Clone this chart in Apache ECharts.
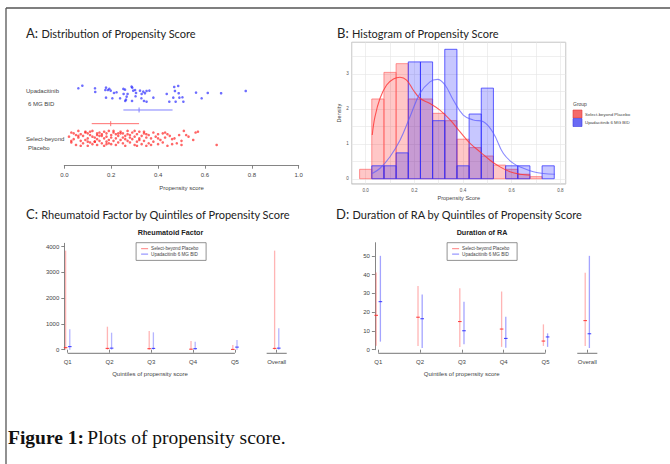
<!DOCTYPE html>
<html><head><meta charset="utf-8">
<script src="https://cdn.jsdelivr.net/npm/echarts@6/dist/echarts.min.js"></script>
<style>html,body{margin:0;padding:0;background:#fff}#c{width:670px;height:464px}</style>
</head><body><div id="c"></div>
<script>
// ---------------- Panel A: strip chart ----------------
const groupLabels = ['Upadacitinib\n6 MG BID', 'Select-beyond\nPlacebo'];
const legendLabels = ['Select-beyond Placebo', 'Upadacitinib 6 MG BID'];
const ticksA = [0, 0.2, 0.4, 0.6, 0.8, 1.0];
const upaScores = [0.06,0.077,0.131,0.132,0.178,0.186,0.192,0.198,0.212,0.178,0.205,0.223,0.252,0.259,0.253,0.266,0.263,0.26,0.287,0.29,0.302,0.306,0.304,0.294,0.323,0.33,0.337,0.344,0.351,0.363,0.329,0.34,0.351,0.38,0.437,0.448,0.465,0.469,0.472,0.486,0.488,0.491,0.504,0.508,0.475,0.562,0.586,0.612,0.669,0.774,0.175,0.238,0.27,0.289];
const upaJitter = [0.63,0.92,0.63,0.22,0.7,0.44,0.56,0.37,0.11,-0.41,-0.48,0.19,0.56,0.48,0.0,-0.3,-0.63,-0.78,0.81,0.7,0.44,0.11,-0.26,0.37,0.37,0.0,0.26,0.08,0.33,0.37,-0.48,-0.78,-0.86,-0.41,0.0,-0.86,-0.41,0.78,0.33,0.89,0.08,-0.41,-0.37,-0.86,-0.86,0.15,-0.48,0.11,0.08,0.33,0.44,-0.48,0.0,-0.78];
const pboScores = [
 0.02,0.03,0.03,0.04,0.05,0.05,0.06,0.06,0.07,0.07,
 0.08,0.08,0.09,0.09,0.10,0.10,0.10,0.11,0.11,0.12,
 0.12,0.12,0.13,0.13,0.14,0.14,0.14,0.15,0.15,0.15,
 0.16,0.16,0.17,0.17,0.17,0.18,0.18,0.18,0.19,0.19,
 0.20,0.20,0.20,0.21,0.21,0.22,0.22,0.22,0.23,0.23,
 0.24,0.24,0.25,0.25,0.25,0.26,0.26,0.27,0.27,0.28,
 0.28,0.29,0.29,0.30,0.30,0.31,0.31,0.32,0.32,0.33,
 0.33,0.34,0.34,0.35,0.35,0.36,0.36,0.37,0.38,0.38,
 0.39,0.40,0.40,0.41,0.42,0.42,0.43,0.44,0.45,0.46,
 0.47,0.48,0.49,0.50,0.50,0.51,0.53,0.55,0.56,0.57,
 0.65,0.04,0.07,0.09,0.11,0.13,0.16,0.19,0.21,0.24,
 0.26,0.28,0.30,0.32,0.35,0.37,0.40,0.43,0.46,0.52,
 0.03,0.06,0.10,0.14,0.18,0.23,0.27,0.31,0.34,0.44];
const pboJitter = [
 0.2,-0.5,0.7,-0.1,0.4,-0.8,0.1,0.9,-0.3,0.5,
 -0.6,0.3,0.8,-0.2,0.0,0.6,-0.9,0.4,-0.5,0.2,
 -0.7,0.9,0.1,-0.4,0.6,-0.1,-0.8,0.3,0.7,-0.3,
 0.5,-0.6,0.0,0.8,-0.9,0.2,-0.4,0.6,-0.2,0.9,
 -0.7,0.4,0.1,-0.3,0.7,0.5,-0.8,0.0,0.3,-0.5,
 0.8,-0.2,0.1,-0.6,0.6,0.3,-0.9,0.9,-0.3,0.4,
 -0.5,0.7,-0.1,0.2,-0.8,0.5,-0.4,0.8,0.0,-0.7,
 0.3,0.6,-0.3,-0.9,0.1,0.4,-0.6,0.0,0.7,-0.4,
 0.2,-0.7,0.5,-0.2,0.6,-0.5,0.1,-0.9,0.3,-0.1,
 0.0,-0.6,0.4,-0.8,-0.3,0.9,0.2,-0.2,0.7,0.8,
 -0.8,0.6,-0.9,0.7,0.8,-0.4,0.3,-0.6,0.9,0.6,
 -0.1,0.1,0.9,-0.2,0.5,-0.8,0.0,0.7,-0.7,0.4,
 -0.3,0.3,-0.4,0.4,-0.7,0.6,0.5,-0.9,0.8,0.5];
const upaSummary = [0.252, 0.319, 0.462]; // low, centre, high
const pboSummary = [0.117, 0.198, 0.319];

// ---------------- Panel B: histogram ----------------
const binCenters = [0,0.05,0.10,0.15,0.20,0.25,0.30,0.35,0.40,0.45,0.50,0.55,0.60,0.65,0.70,0.75];
const binWidth = 0.05;
const pboDensity = [0.27,2.28,3.04,3.29,2.28,2.28,1.87,1.66,1.13,0.89,0.65,0.39,0.27,0.13,0.06,0];
const upaDensity = [0,0.37,0.37,0.74,3.34,3.34,1.66,3.70,0.37,1.85,2.59,0,0.37,0.37,0,0.37];
const pboCurveX = [0.027,0.038,0.059,0.086,0.114,0.141,0.168,0.196,0.223,0.264,0.305,0.347,0.388,0.429,0.470,0.511,0.552,0.593,0.634,0.675];
const pboCurveY = [1.25,1.77,2.30,2.68,2.85,2.90,2.82,2.53,2.30,2.15,1.96,1.68,1.34,1.01,0.77,0.53,0.34,0.20,0.13,0.10];
const upaCurveX = [0.027,0.059,0.100,0.141,0.182,0.223,0.264,0.295,0.326,0.360,0.401,0.442,0.484,0.525,0.566,0.607,0.648,0.689,0.730,0.778];
const upaCurveY = [0.15,0.30,0.63,1.10,1.77,2.44,2.77,2.84,2.68,2.25,1.82,1.68,1.63,1.30,0.72,0.44,0.30,0.20,0.15,0.13];
const ticksBx = [0, 0.2, 0.4, 0.6, 0.8];
const ticksBy = [0, 1, 2, 3];

// ---------------- Panels C & D: ranges by quintile ----------------
const quintiles = ['Q1','Q2','Q3','Q4','Q5','Overall'];
const ticksC = [0,1000,2000,3000,4000];
const rfPboLow  = [0,0,0,0,0,0];
const rfPboHigh = [3845,893,726,338,183,3845];
const rfPboMed  = [80,50,40,20,10,50];
const rfUpaLow  = [0,0,0,0,0,0];
const rfUpaHigh = [790,660,675,311,377,830];
const rfUpaMed  = [120,60,50,40,100,60];
const ticksD = [0,10,20,30,40,50];
const durPboLow  = [2.1,2.0,1.5,1.5,2.0,2.0];
const durPboHigh = [41.1,34.0,32.8,31.0,13.5,41.0];
const durPboMed  = [18.3,17.3,15.0,11.0,4.6,15.5];
const durUpaLow  = [4.3,0.9,2.9,1.0,1.5,0.9];
const durUpaHigh = [50.0,29.4,25.6,17.6,8.7,50.0];
const durUpaMed  = [25.6,16.5,10.1,6.0,6.8,8.5];

// ---------------- build ----------------
const chart = echarts.init(document.getElementById('c'), null, {renderer:'svg'});
const SANS = 'Liberation Sans';
const TF = 'Lato';
const AX = '#444';

const blueCentre = 7.97, redCentre = 3.04;
const upaPts = upaScores.map((s,i)=>[s, blueCentre + upaJitter[i]]);
const pboPts = pboScores.map((s,i)=>[s, redCentre + pboJitter[i]*0.92]);

function summarySeries(sum, level, color){
  return {type:'custom', xAxisIndex:0, yAxisIndex:0, silent:true, z:3,
    data:[[sum[0], sum[1], sum[2]]],
    renderItem(p, api){
      const a = api.coord([api.value(0), level]);
      const m = api.coord([api.value(1), level]);
      const b = api.coord([api.value(2), level]);
      return {type:'group', children:[
        {type:'line', shape:{x1:a[0],y1:a[1],x2:b[0],y2:b[1]}, style:{stroke:color, lineWidth:1}},
        {type:'line', shape:{x1:m[0],y1:m[1]-2.5,x2:m[0],y2:m[1]+2.5}, style:{stroke:color, lineWidth:1}}
      ]};
    }};
}
function histSeries(dens, fill, stroke, z){
  return {type:'custom', xAxisIndex:1, yAxisIndex:1, silent:true, z,
    data: binCenters.map((c,i)=>[c, dens[i]]),
    renderItem(p, api){
      const c = api.value(0), d = api.value(1);
      if (!d) return;
      const p0 = api.coord([c - binWidth/2, d]);
      const p1 = api.coord([c + binWidth/2, 0]);
      return {type:'rect', shape:{x:p0[0], y:p0[1], width:p1[0]-p0[0], height:p1[1]-p0[1]},
        style:{fill, stroke, lineWidth:0.9}};
    }};
}
function rangeSeries(gi, low, high, med, off, color, markColor){
  return {type:'custom', xAxisIndex:gi, yAxisIndex:gi, silent:true, clip:false, z:3,
    data: quintiles.map((q,i)=>[i+1, low[i], high[i], med[i]]),
    renderItem(p, api){
      const x = api.value(0) + off;
      const a = api.coord([x, api.value(1)]);
      const b = api.coord([x, api.value(2)]);
      const m = api.coord([x, api.value(3)]);
      return {type:'group', children:[
        {type:'line', shape:{x1:a[0],y1:a[1],x2:b[0],y2:b[1]}, style:{stroke:color, lineWidth:1.3}},
        {type:'line', shape:{x1:m[0]-1.8,y1:m[1],x2:m[0]+1.8,y2:m[1]}, style:{stroke:markColor, lineWidth:1.1}}
      ]};
    }};
}
function axisSegSeries(gi){
  const n = quintiles.length;
  return {type:'custom', xAxisIndex:gi, yAxisIndex:gi, silent:true, clip:false,
    data:[[1, n-1], [n-0.24, n+0.24]],
    renderItem(p, api){
      const a = api.coord([api.value(0), 0]);
      const b = api.coord([api.value(1), 0]);
      return {type:'line', shape:{x1:a[0],y1:a[1]+3.6,x2:b[0],y2:b[1]+3.6}, style:{stroke:'#666', lineWidth:0.9}};
    }};
}
function quintileXAxis(gi){
  return {gridIndex:gi, type:'value', min:1, max:quintiles.length, interval:1, offset:3.6,
    axisLine:{show:false}, splitLine:{show:false},
    axisTick:{show:true, length:3, lineStyle:{color:'#666', width:0.8}},
    axisLabel:{fontSize:6, color:AX, fontFamily:SANS, margin:6, formatter:v=>quintiles[v-1] || ''}};
}
function quintileYAxis(gi, max, ticks){
  return {gridIndex:gi, type:'value', min:0, max, offset:3.4,
    axisLine:{show:true, lineStyle:{color:'#666', width:0.8}},
    axisTick:{show:true, length:3, customValues:ticks, lineStyle:{color:'#666', width:0.8}},
    axisLabel:{fontSize:6, color:AX, fontFamily:SANS, margin:5, customValues:ticks, formatter:v=>String(v)},
    splitLine:{show:false}};
}
function near(v, step){ return Math.abs(v/step - Math.round(v/step)) < 1e-6; }

function legendBox(x, y){
  return {type:'group', left:x, top:y, silent:true, children:[
    {type:'rect', shape:{x:0,y:0,width:70,height:17.7}, style:{fill:'#fff', stroke:'#777', lineWidth:0.8}},
    {type:'line', shape:{x1:5,y1:6,x2:12,y2:6}, style:{stroke:'#ff8080', lineWidth:1}},
    {type:'line', shape:{x1:5,y1:11.4,x2:12,y2:11.4}, style:{stroke:'#8080ff', lineWidth:1}},
    {type:'text', x:15, y:6, style:{text:legendLabels[0], fontSize:4.6, fontFamily:SANS, fill:'#444', verticalAlign:'middle'}},
    {type:'text', x:15, y:11.4, style:{text:legendLabels[1], fontSize:4.6, fontFamily:SANS, fill:'#444', verticalAlign:'middle'}}
  ]};
}
function panelTitle(letter, text, x, y){
  return {type:'text', x, y, silent:true, style:{
    text:'{a|'+letter+':} {b|'+text+'}', verticalAlign:'middle',
    rich:{a:{fontSize:13, fontFamily:TF, fill:'#222'}, b:{fontSize:11, fontFamily:TF, fill:'#222'}}}};
}
const gl = groupLabels.map(s=>s.split('\n'));

const option = {
  animation:false,
  backgroundColor:'#fff',
  grid:[
    {left:64.3, top:75.7, width:234.4, height:90},
    {left:351.7, top:42.3, width:214, height:141.7, show:true, borderColor:'#999', borderWidth:0.8, backgroundColor:'rgba(0,0,0,0)'},
    {left:67.7, top:243.3, width:209, height:106.4},
    {left:378.3, top:242.7, width:209, height:107}
  ],
  xAxis:[
    {gridIndex:0, type:'value', min:0, max:1, interval:0.2,
     axisLine:{lineStyle:{color:'#666', width:0.8}},
     axisTick:{length:3, lineStyle:{color:'#666', width:0.8}},
     axisLabel:{fontSize:6, color:AX, fontFamily:SANS, margin:6, formatter:v=>v.toFixed(1)},
     splitLine:{show:false},
     name:'Propensity score', nameLocation:'middle', nameGap:19,
     nameTextStyle:{fontSize:6, color:AX, fontFamily:SANS}},
    {gridIndex:1, type:'value', min:-0.0575, max:0.822, splitNumber:9,
     axisLine:{show:false}, axisTick:{show:false},
     axisLabel:{fontSize:4.6, color:'#555', fontFamily:SANS, margin:4, showMinLabel:false, showMaxLabel:false,
       formatter:v=>(v>=-1e-9 && near(v,0.2)) ? v.toFixed(1) : ''},
     splitLine:{lineStyle:{color:'#e4e4e4', width:0.6}},
     name:'Propensity Score', nameLocation:'middle', nameGap:11,
     nameTextStyle:{fontSize:5.6, color:AX, fontFamily:SANS}},
    quintileXAxis(2),
    quintileXAxis(3)
  ],
  yAxis:[
    {gridIndex:0, type:'value', min:0, max:10, show:false},
    {gridIndex:1, type:'value', min:-0.15, max:3.9, splitNumber:8,
     axisLine:{show:false}, axisTick:{show:false},
     axisLabel:{fontSize:4.6, color:'#555', fontFamily:SANS, margin:3, showMinLabel:false, showMaxLabel:false,
       formatter:v=>(v>=-1e-9 && near(v,1)) ? String(Math.round(v)) : ''},
     splitLine:{lineStyle:{color:'#e4e4e4', width:0.6}},
     name:'Density', nameLocation:'middle', nameGap:9, nameRotate:90,
     nameTextStyle:{fontSize:5.6, color:AX, fontFamily:SANS}},
    quintileYAxis(2, 4130, ticksC),
    quintileYAxis(3, 57, ticksD)
  ],
  series:[
    {type:'scatter', xAxisIndex:0, yAxisIndex:0, data:upaPts, symbolSize:2.6, silent:true,
     itemStyle:{color:'rgba(40,40,255,0.85)'}},
    {type:'scatter', xAxisIndex:0, yAxisIndex:0, data:pboPts, symbolSize:2.6, silent:true,
     itemStyle:{color:'rgba(255,30,30,0.85)'}},
    summarySeries(upaSummary, 6.19, '#8080ff'),
    summarySeries(pboSummary, 4.67, '#ff7070'),
    histSeries(pboDensity, 'rgba(255,0,0,0.22)', 'rgba(255,90,90,0.7)', 2),
    histSeries(upaDensity, 'rgba(0,0,255,0.22)', 'rgba(50,50,255,0.85)', 3),
    {type:'line', xAxisIndex:1, yAxisIndex:1, smooth:0.4, showSymbol:false, silent:true, z:4,
     data:pboCurveX.map((x,i)=>[x, pboCurveY[i]]), lineStyle:{color:'rgba(255,50,50,0.8)', width:1.1}},
    {type:'line', xAxisIndex:1, yAxisIndex:1, smooth:0.4, showSymbol:false, silent:true, z:4,
     data:upaCurveX.map((x,i)=>[x, upaCurveY[i]]), lineStyle:{color:'rgba(90,90,255,0.7)', width:1.1}},
    axisSegSeries(2),
    rangeSeries(2, rfPboLow, rfPboHigh, rfPboMed, -0.05, 'rgba(255,90,90,0.45)', 'rgba(255,40,40,0.85)'),
    rangeSeries(2, rfUpaLow, rfUpaHigh, rfUpaMed, 0.05, 'rgba(90,90,255,0.45)', 'rgba(40,40,255,0.85)'),
    axisSegSeries(3),
    rangeSeries(3, durPboLow, durPboHigh, durPboMed, -0.05, 'rgba(255,90,90,0.45)', 'rgba(255,40,40,0.85)'),
    rangeSeries(3, durUpaLow, durUpaHigh, durUpaMed, 0.05, 'rgba(90,90,255,0.55)', 'rgba(40,40,255,0.85)')
  ],
  graphic:[
    {type:'line', silent:true, shape:{x1:6,y1:8,x2:670,y2:8}, style:{stroke:'#555', lineWidth:1.3}},
    {type:'line', silent:true, shape:{x1:6,y1:8,x2:6,y2:464}, style:{stroke:'#555', lineWidth:1.3}},
    panelTitle('A','Distribution of Propensity Score', 26, 33),
    panelTitle('B','Histogram of Propensity Score', 337, 33),
    panelTitle('C','Rheumatoid Factor by Quintiles of Propensity Score', 26, 214),
    panelTitle('D','Duration of RA by Quintiles of Propensity Score', 336, 214),
    {type:'text', x:26, y:91, silent:true, style:{text:gl[0][0], fontSize:6, fontFamily:SANS, fill:AX, verticalAlign:'middle'}},
    {type:'text', x:28, y:104, silent:true, style:{text:gl[0][1], fontSize:6, fontFamily:SANS, fill:AX, verticalAlign:'middle'}},
    {type:'text', x:26, y:139.3, silent:true, style:{text:gl[1][0], fontSize:6, fontFamily:SANS, fill:AX, verticalAlign:'middle'}},
    {type:'text', x:28, y:148.3, silent:true, style:{text:gl[1][1], fontSize:6, fontFamily:SANS, fill:AX, verticalAlign:'middle'}},
    // panel B legend
    {type:'text', x:573, y:104, silent:true, style:{text:'Group', fontSize:5, fontFamily:SANS, fill:AX, verticalAlign:'middle'}},
    {type:'rect', silent:true, shape:{x:573,y:110,width:9,height:8}, style:{fill:'#f46a6a', stroke:'#e03a3a', lineWidth:0.6}},
    {type:'rect', silent:true, shape:{x:573,y:118.5,width:9,height:8}, style:{fill:'#6a6af4', stroke:'#3a3ae0', lineWidth:0.6}},
    {type:'text', x:585, y:114, silent:true, style:{text:legendLabels[0], fontSize:4.4, fontFamily:SANS, fill:AX, verticalAlign:'middle'}},
    {type:'text', x:585, y:122.5, silent:true, style:{text:legendLabels[1], fontSize:4.4, fontFamily:SANS, fill:AX, verticalAlign:'middle'}},
    // panel C & D sub-titles, legends and axis names
    {type:'text', x:170.5, y:232, silent:true, style:{text:'Rheumatoid Factor', fontSize:7.2, fontWeight:'bold', fontFamily:SANS, fill:'#222', align:'center', verticalAlign:'middle'}},
    {type:'text', x:482, y:232.3, silent:true, style:{text:'Duration of RA', fontSize:7.2, fontWeight:'bold', fontFamily:SANS, fill:'#222', align:'center', verticalAlign:'middle'}},
    legendBox(135.7, 242.3),
    legendBox(446.7, 242.3),
    {type:'text', x:150, y:374.3, silent:true, style:{text:'Quintiles of propensity score', fontSize:6, fontFamily:SANS, fill:AX, align:'center', verticalAlign:'middle'}},
    {type:'text', x:461.7, y:374.3, silent:true, style:{text:'Quintiles of propensity score', fontSize:6, fontFamily:SANS, fill:AX, align:'center', verticalAlign:'middle'}},
    // caption
    {type:'text', x:8, y:437, silent:true, style:{text:'{b|Figure 1:} {r|Plots of propensity score.}', verticalAlign:'middle',
      rich:{b:{fontSize:19.5, fontWeight:'bold', fontFamily:'Liberation Serif', fill:'#111'},
            r:{fontSize:19.5, fontFamily:'Liberation Serif', fill:'#111'}}}}
  ]
};
chart.setOption(option);
</script>
</body></html>
